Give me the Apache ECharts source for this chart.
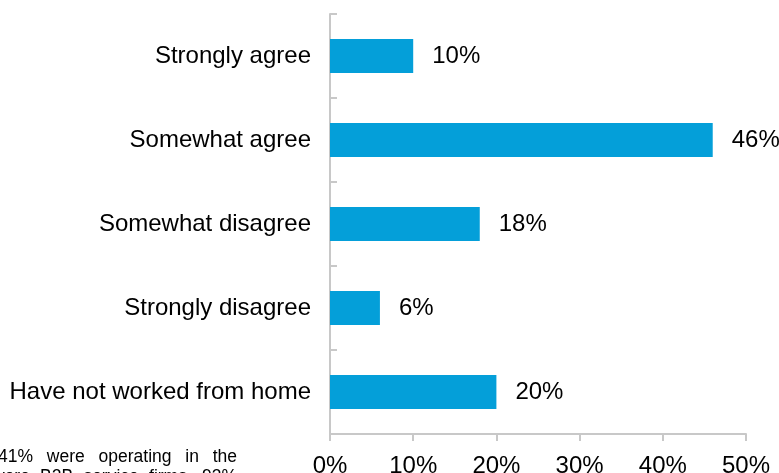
<!DOCTYPE html>
<html>
<head>
<meta charset="utf-8">
<script src="https://cdn.jsdelivr.net/npm/echarts@6/dist/echarts.min.js"></script>
<style>
html,body{margin:0;padding:0;background:#fff;}
#chart{width:779px;height:473px;}
</style>
</head>
<body>
<div id="chart"></div>
<script>
var categories = ['Strongly agree', 'Somewhat agree', 'Somewhat disagree', 'Strongly disagree', 'Have not worked from home'];
var values = [10, 46, 18, 6, 20];
var xTicks = [0, 10, 20, 30, 40, 50];
var footLine1 = ['41%', 'were', 'operating', 'in', 'the'];
var footLine2 = ['were', 'B2B', 'service', 'firms,', '93%'];

var FONT = '"Liberation Sans", Arial, sans-serif';
var chart = echarts.init(document.getElementById('chart'), null, {renderer: 'canvas'});

function justifiedWords(words, y, x0, x1, size) {
  var ctx = document.createElement('canvas').getContext('2d');
  ctx.font = size + 'px ' + FONT;
  var widths = words.map(function (w) { return ctx.measureText(w).width; });
  var total = widths.reduce(function (a, b) { return a + b; }, 0);
  var gap = (x1 - x0 - total) / (words.length - 1);
  var els = [];
  var x = x0;
  words.forEach(function (w, i) {
    els.push({
      type: 'text', left: x, top: y,
      style: {text: w, font: size + 'px ' + FONT, fill: '#000'}
    });
    x += widths[i] + gap;
  });
  return els;
}

var graphics = justifiedWords(footLine1, 448, -2, 237, 17.5).concat(justifiedWords(footLine2, 468, -8, 237, 17.5));

chart.setOption({
  animation: false,
  grid: {left: 330, right: 33, top: 14, bottom: 39, containLabel: false, outerBoundsMode: 'none'},
  xAxis: {
    type: 'value', min: xTicks[0], max: xTicks[xTicks.length - 1], interval: 10,
    axisLine: {show: true, lineStyle: {color: '#C8C8C8', width: 2}},
    axisTick: {show: true, length: 7, lineStyle: {color: '#C8C8C8', width: 2}},
    splitLine: {show: false},
    axisLabel: {formatter: '{value}%', fontSize: 24, color: '#000', fontFamily: FONT, margin: 20}
  },
  yAxis: {
    type: 'category', data: categories, inverse: true,
    axisLine: {show: true, lineStyle: {color: '#C8C8C8', width: 2}},
    axisTick: {show: true, inside: true, length: 7, lineStyle: {color: '#C8C8C8', width: 2}},
    axisLabel: {fontSize: 24, color: '#000', fontFamily: FONT, margin: 19, padding: [4, 0, 0, 0]}
  },
  series: [{
    type: 'bar', data: values, barWidth: 34,
    itemStyle: {color: '#049FD9'},
    label: {show: true, position: 'right', distance: 19, formatter: '{c}%', fontSize: 24, color: '#000', fontFamily: FONT, padding: [4, 0, 0, 0]}
  }],
  graphic: graphics
});
</script>
</body>
</html>
